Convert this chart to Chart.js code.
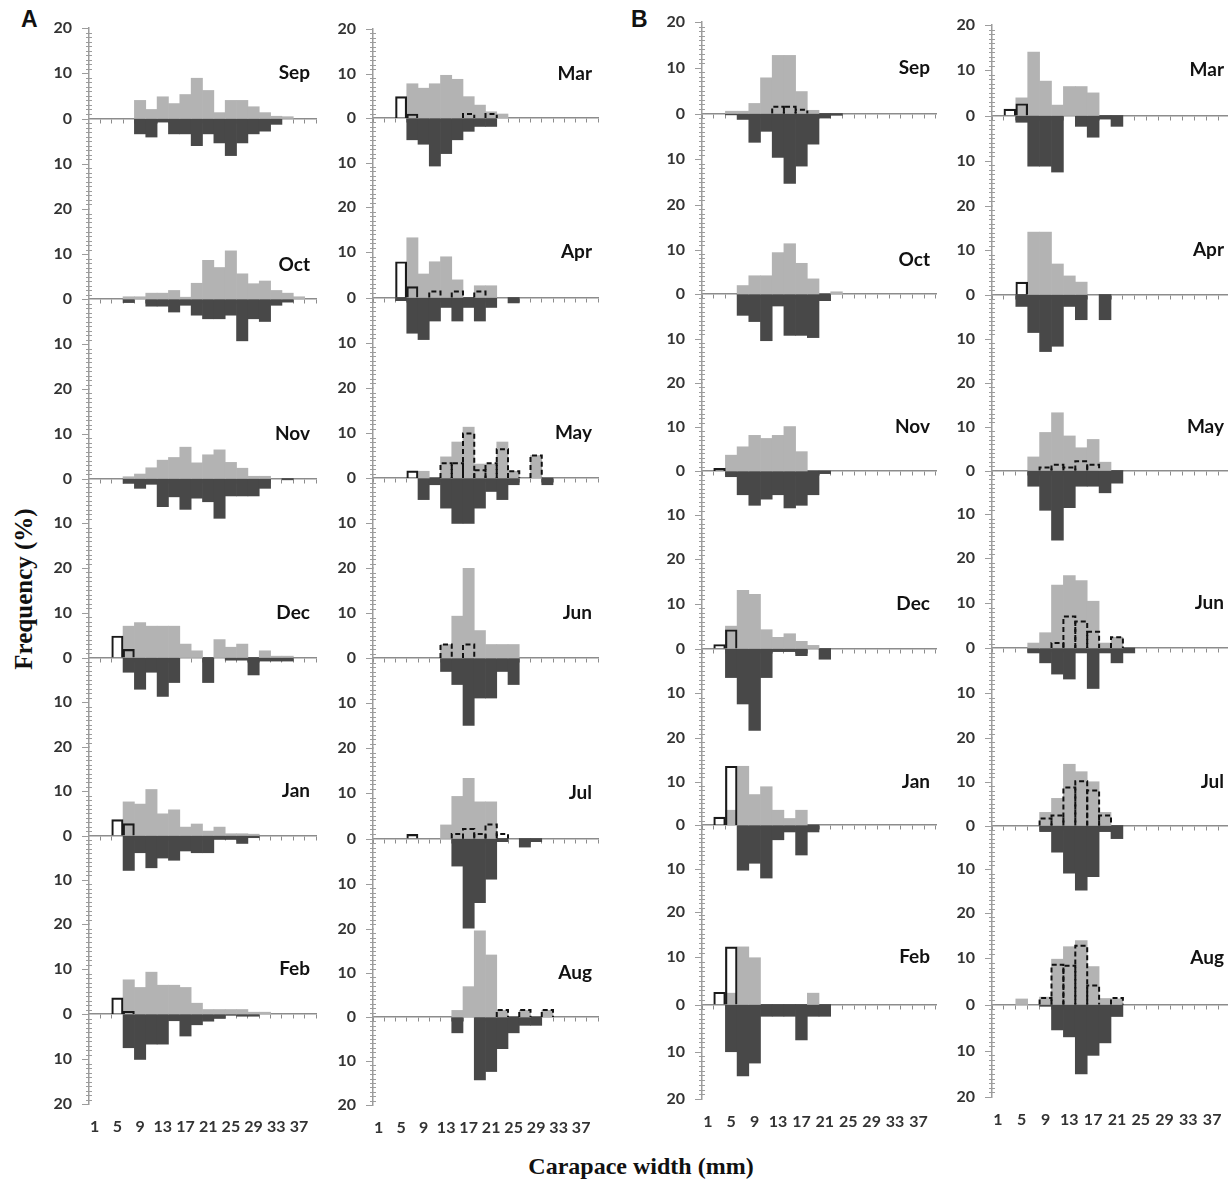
<!DOCTYPE html>
<html>
<head>
<meta charset="utf-8">
<title>Carapace width frequency distributions</title>
<script src="https://cdn.jsdelivr.net/npm/chart.js@4/dist/chart.umd.min.js"></script>
<style>
  html, body { margin: 0; padding: 0; background: #fff; overflow: hidden; }
  #figure { position: relative; width: 1228px; height: 1183px; }
  #figure canvas { position: absolute; }
  .txt { position: absolute; white-space: nowrap; color: #111; }
  .site { font: bold 23px "Liberation Sans", Arial, sans-serif; line-height: 23px; }
  .axis-title { font: bold 24px "Liberation Serif", "Times New Roman", serif; transform: translate(-50%, -50%); }
  .axis-title.vertical { transform: translate(-50%, -50%) rotate(-90deg); font-size: 25px; }
</style>
</head>
<body>
<div id="figure">
  <div class="txt site" style="left:21px; top:8px;">A</div>
  <div class="txt site" style="left:631px; top:8px;">B</div>
  <div class="txt axis-title vertical" style="left:24px; top:589px;">Frequency (%)</div>
  <div class="txt axis-title" style="left:641px; top:1166px;">Carapace width (mm)</div>
</div>
<script>
// ---- size classes (carapace width, mm; class mid-points) ----
const sizeClasses = ['1','3','5','7','9','11','13','15','17','19','21','23','25','27','29','31','33','35','37','39'];
const widthTickLabels = ['1','5','9','13','17','21','25','29','33','37'];
const freqTickLabels = [20, 10, 0, 10, 20];

const monthsSepFeb = ['Sep','Oct','Nov','Dec','Jan','Feb'];
const monthsMarAug = ['Mar','Apr','May','Jun','Jul','Aug'];

// ---- Site A: frequency (%) per size class ----
// up = plotted above the axis, down = plotted below the axis,
// open = open bars, dash = dashed bars
const A_Sep_up   = [0,0,0,0,4.0,2.0,4.8,3.3,5.3,8.9,6.2,1.3,4.0,4.0,2.6,1.3,0.5,0.4,0,0];
const A_Sep_down = [0,0,0,0,3.4,4.1,0.8,3.4,3.4,6.0,3.4,5.4,8.2,5.4,3.4,2.8,1.3,0,0,0];

const A_Oct_up   = [0,0,0,0.5,0.5,1.3,1.3,1.9,0.4,3.5,8.6,7.0,10.7,5.6,3.4,4.0,1.9,1.3,0.5,0];
const A_Oct_down = [0,0,0,0.8,0,1.6,1.6,2.9,1.4,3.6,4.4,4.4,3.6,9.3,4.4,5.0,1.4,0.7,0,0];

const A_Nov_up   = [0,0,0,0.4,1.0,2.4,4.1,4.7,7.0,3.5,5.3,6.4,3.6,2.3,0.5,0.5,0,0,0,0];
const A_Nov_down = [0,0,0,1.1,2.2,1.3,6.3,4.1,6.9,4.4,5.2,8.9,3.9,3.9,3.9,2.2,0,0.3,0,0];

const A_Dec_up   = [0,0,0,7.0,7.8,7.0,7.0,7.0,3.0,1.5,0,4.0,2.3,3.0,0,1.5,0.3,0.3,0,0];
const A_Dec_down = [0,0,0,3.3,7.1,3.3,8.7,5.6,0,0,5.6,0,0.6,0.6,3.9,0.8,0.8,0.8,0,0];
const A_Dec_open = [0,0,4.8,1.8,0,0,0,0,0,0,0,0,0,0,0,0,0,0,0,0];

const A_Jan_up   = [0,0,0,7.6,7.1,10.4,4.9,5.8,1.9,2.6,1.0,1.9,0.4,0.4,0.3,0,0,0,0,0];
const A_Jan_down = [0,0,0,7.9,3.9,7.3,5.1,5.6,3.5,3.9,3.9,0.9,0.9,1.8,0.5,0,0,0,0,0];
const A_Jan_open = [0,0,3.6,2.7,0,0,0,0,0,0,0,0,0,0,0,0,0,0,0,0];

const A_Feb_up   = [0,0,0,7.6,5.9,9.3,6.4,6.4,5.9,2.4,1.0,1.0,1.0,1.0,0.4,0.4,0,0,0,0];
const A_Feb_down = [0,0,0,7.5,10.1,6.7,6.7,1.5,4.9,2.4,1.6,1.0,0.3,0.5,0.5,0,0,0,0,0];
const A_Feb_open = [0,0,3.6,0.6,0,0,0,0,0,0,0,0,0,0,0,0,0,0,0,0];

const A_Mar_up   = [0,0,0,7.7,6.7,7.7,9.6,8.7,4.8,2.9,1.4,0.9,0,0,0,0,0,0,0,0];
const A_Mar_down = [0,0,0,4.9,5.9,10.8,8.0,4.9,3.0,1.9,1.9,0,0,0,0,0,0,0,0,0];
const A_Mar_open = [0,0,4.8,0.9,0,0,0,0,0,0,0,0,0,0,0,0,0,0,0,0];
const A_Mar_dash = [0,0,0,0,0,0,0,0,0.9,0,0.9,0,0,0,0,0,0,0,0,0];

const A_Apr_up   = [0,0,0,13.2,5.2,7.9,9.0,3.9,0,2.6,2.6,0,0,0,0,0,0,0,0,0];
const A_Apr_down = [0,0,0.7,7.9,9.3,5.2,2.2,5.2,2.2,5.2,2.2,0,1.2,0,0,0,0,0,0,0];
const A_Apr_open = [0,0,7.9,2.4,0,0,0,0,0,0,0,0,0,0,0,0,0,0,0,0];
const A_Apr_dash = [0,0,0,0,0,1.3,0,1.3,0,1.3,0,0,0,0,0,0,0,0,0,0];

const A_May_up   = [0,0,0,0,1.5,0,4.7,8.0,11.3,3.1,3.1,8.0,1.5,0,5.0,0,0,0,0,0];
const A_May_down = [0,0,0,0,4.8,1.5,6.7,10.1,10.1,6.7,3.0,4.8,1.5,0,0,1.5,0,0,0,0];
const A_May_open = [0,0,0,1.6,0,0,0,0,0,0,0,0,0,0,0,0,0,0,0,0];
const A_May_dash = [0,0,0,0,0,0,3.3,3.3,9.9,1.7,3.3,6.4,1.5,0,5.0,0,0,0,0,0];

const A_Jun_up   = [0,0,0,0,0,0,3.0,9.3,20.0,6.1,3.0,3.0,3.0,0,0,0,0,0,0,0];
const A_Jun_down = [0,0,0,0,0,0,3.0,5.9,15.0,8.9,8.9,3.0,5.9,0,0,0,0,0,0,0];
const A_Jun_dash = [0,0,0,0,0,0,3.0,0,3.0,0,0,0,0,0,0,0,0,0,0,0];

const A_Jul_up   = [0,0,0,0,0,0,3.0,9.3,13.3,8.1,8.1,0,0,0,0,0,0,0,0,0];
const A_Jul_down = [0,0,0,0,0,0,0,6.1,19.8,14.2,9.0,0.7,0,1.9,0.7,0,0,0,0,0];
const A_Jul_open = [0,0,0,0.9,0,0,0,0,0,0,0,0,0,0,0,0,0,0,0,0];
const A_Jul_dash = [0,0,0,0,0,0,0,1.0,2.1,1.0,3.1,1.0,0,0,0,0,0,0,0,0];

const A_Aug_up   = [0,0,0,0,0,0,0,1.5,6.9,19.6,14.1,1.5,0,1.5,0,1.5,0,0,0,0];
const A_Aug_down = [0,0,0,0,0,0,0,3.6,0,14.3,12.4,7.2,3.6,1.9,1.9,0,0,0,0,0];
const A_Aug_dash = [0,0,0,0,0,0,0,0,0,0,0,1.6,0,1.6,0,1.6,0,0,0,0];

// ---- Site B ----
const B_Sep_up   = [0,0,0.5,0.5,2.2,7.8,12.7,12.7,4.8,0.7,0,0,0,0,0,0,0,0,0,0];
const B_Sep_down = [0,0,0.3,1.3,6.3,3.9,9.6,15.3,11.5,6.7,1.0,0.4,0,0,0,0,0,0,0,0];
const B_Sep_dash = [0,0,0,0,0,0,1.5,1.5,0.8,0,0,0,0,0,0,0,0,0,0,0];

const B_Oct_up   = [0,0,0,1.9,4.1,4.1,9.3,11.3,6.9,3.4,0,0.5,0,0,0,0,0,0,0,0];
const B_Oct_down = [0,0,0,4.8,6.2,10.5,2.7,9.3,9.3,9.8,1.5,0,0,0,0,0,0,0,0,0];

const B_Nov_up   = [0,0,3.6,5.5,8.1,7.4,8.1,10.1,4.4,0,0,0,0,0,0,0,0,0,0,0];
const B_Nov_down = [0,0,1.3,5.4,7.8,6.4,5.4,8.4,7.8,5.4,0.6,0,0,0,0,0,0,0,0,0];
const B_Nov_open = [0,0.6,0,0,0,0,0,0,0,0,0,0,0,0,0,0,0,0,0,0];

const B_Dec_up   = [0,0,5.0,13.0,12.1,4.2,2.5,3.3,1.6,0.7,0,0,0,0,0,0,0,0,0,0];
const B_Dec_down = [0,0,6.5,12.4,18.3,6.5,0.7,0.7,1.6,0,2.4,0,0,0,0,0,0,0,0,0];
const B_Dec_open = [0,0.9,4.2,0,0,0,0,0,0,0,0,0,0,0,0,0,0,0,0,0];

const B_Jan_up   = [0,0,3.4,13.5,7.0,8.8,3.4,1.5,3.4,0,0,0,0,0,0,0,0,0,0,0];
const B_Jan_down = [0,0,0,10.4,8.8,12.2,3.4,1.6,6.9,1.6,0,0,0,0,0,0,0,0,0,0];
const B_Jan_open = [0,1.8,13.5,0,0,0,0,0,0,0,0,0,0,0,0,0,0,0,0,0];

const B_Feb_up   = [0,0,2.4,12.2,9.9,0,0,0,0,2.4,0,0,0,0,0,0,0,0,0,0];
const B_Feb_down = [0,0,10.0,15.1,12.4,2.5,2.5,2.5,7.5,2.5,2.5,0,0,0,0,0,0,0,0,0];
const B_Feb_open = [0,2.6,12.2,0,0,0,0,0,0,0,0,0,0,0,0,0,0,0,0,0];

const B_Mar_up   = [0,0,3.9,14.0,7.6,2.3,6.4,6.4,5.0,0,0,0,0,0,0,0,0,0,0,0];
const B_Mar_down = [0,0,1.5,11.2,11.2,12.5,0,2.4,4.8,0.8,2.4,0,0,0,0,0,0,0,0,0];
const B_Mar_open = [0,1.4,2.6,0,0,0,0,0,0,0,0,0,0,0,0,0,0,0,0,0];

const B_Apr_up   = [0,0,0,14.1,14.1,6.9,4.2,2.8,0,0,0,0,0,0,0,0,0,0,0,0];
const B_Apr_down = [0,0,2.7,8.6,12.9,11.7,2.7,5.7,0,5.7,0,0,0,0,0,0,0,0,0,0];
const B_Apr_open = [0,0,2.8,0,0,0,0,0,0,0,0,0,0,0,0,0,0,0,0,0];

const B_May_up   = [0,0,0,3.1,8.7,13.2,7.9,5.2,7.1,1.9,0,0,0,0,0,0,0,0,0,0];
const B_May_down = [0,0,0,3.6,9.1,15.9,8.5,3.6,3.6,5.1,2.9,0,0,0,0,0,0,0,0,0];
const B_May_dash = [0,0,0,0,0.7,1.3,0.7,2.1,1.3,0,0,0,0,0,0,0,0,0,0,0];

const B_Jun_up   = [0,0,0,1.1,3.4,14.0,16.1,15.0,10.4,1.1,2.4,0,0,0,0,0,0,0,0,0];
const B_Jun_down = [0,0,0,1.1,3.3,5.8,6.9,1.1,9.0,1.1,3.3,1.1,0,0,0,0,0,0,0,0];
const B_Jun_dash = [0,0,0,0,0,1.1,7.0,5.9,3.6,0,2.4,0,0,0,0,0,0,0,0,0];

const B_Jul_up   = [0,0,0,0,3.0,6.2,14.0,12.3,10.0,3.0,0,0,0,0,0,0,0,0,0,0];
const B_Jul_down = [0,0,0,0,1.4,6.1,10.9,14.8,11.7,1.4,3.0,0,0,0,0,0,0,0,0,0];
const B_Jul_dash = [0,0,0,0,1.6,2.3,8.7,10.1,8.0,2.3,0,0,0,0,0,0,0,0,0,0];

const B_Aug_up   = [0,0,1.2,0,1.6,9.8,12.5,13.8,8.2,1.3,1.2,0,0,0,0,0,0,0,0,0];
const B_Aug_down = [0,0,0,0,0.4,5.5,7.0,15.0,11.0,8.3,2.6,0,0,0,0,0,0,0,0,0];
const B_Aug_dash = [0,0,0,0,1.4,8.6,8.4,12.7,4.1,0,1.4,0,0,0,0,0,0,0,0,0];

// ---- lookup of the series by site and month ----
const seriesBySite = {
  A: {
    Sep: {up: A_Sep_up, down: A_Sep_down},
    Oct: {up: A_Oct_up, down: A_Oct_down},
    Nov: {up: A_Nov_up, down: A_Nov_down},
    Dec: {up: A_Dec_up, down: A_Dec_down, open: A_Dec_open},
    Jan: {up: A_Jan_up, down: A_Jan_down, open: A_Jan_open},
    Feb: {up: A_Feb_up, down: A_Feb_down, open: A_Feb_open},
    Mar: {up: A_Mar_up, down: A_Mar_down, open: A_Mar_open, dash: A_Mar_dash},
    Apr: {up: A_Apr_up, down: A_Apr_down, open: A_Apr_open, dash: A_Apr_dash},
    May: {up: A_May_up, down: A_May_down, open: A_May_open, dash: A_May_dash},
    Jun: {up: A_Jun_up, down: A_Jun_down, dash: A_Jun_dash},
    Jul: {up: A_Jul_up, down: A_Jul_down, open: A_Jul_open, dash: A_Jul_dash},
    Aug: {up: A_Aug_up, down: A_Aug_down, dash: A_Aug_dash}
  },
  B: {
    Sep: {up: B_Sep_up, down: B_Sep_down, dash: B_Sep_dash},
    Oct: {up: B_Oct_up, down: B_Oct_down},
    Nov: {up: B_Nov_up, down: B_Nov_down, open: B_Nov_open},
    Dec: {up: B_Dec_up, down: B_Dec_down, open: B_Dec_open},
    Jan: {up: B_Jan_up, down: B_Jan_down, open: B_Jan_open},
    Feb: {up: B_Feb_up, down: B_Feb_down, open: B_Feb_open},
    Mar: {up: B_Mar_up, down: B_Mar_down, open: B_Mar_open},
    Apr: {up: B_Apr_up, down: B_Apr_down, open: B_Apr_open},
    May: {up: B_May_up, down: B_May_down, dash: B_May_dash},
    Jun: {up: B_Jun_up, down: B_Jun_down, dash: B_Jun_dash},
    Jul: {up: B_Jul_up, down: B_Jul_down, dash: B_Jul_dash},
    Aug: {up: B_Aug_up, down: B_Aug_down, dash: B_Aug_dash}
  }
};

// ---- page layout: one column of six stacked panels each ----
// axisX = page x of the vertical axis, binW = width of one size class,
// rows = page y of the +20 and -20 ends of each panel
const columns = [
  {site: 'A', months: monthsSepFeb, axisX: 89,  binW: 11.35,
   rows: [[28,209],[209,389],[389,568],[568,747],[747,924],[924,1104]]},
  {site: 'A', months: monthsMarAug, axisX: 373, binW: 11.25,
   rows: [[29,207],[207,388],[388,568],[568,748],[748,929],[929,1105]]},
  {site: 'B', months: monthsSepFeb, axisX: 702, binW: 11.7,
   rows: [[22,205],[205,383],[383,559],[559,738],[738,912],[910,1099]]},
  {site: 'B', months: monthsMarAug, axisX: 992, binW: 11.9,
   rows: [[25,206],[206,383],[383,558],[558,738],[738,913],[912,1097]]}
];
const titleLevel = {Oct: 7.6};

const LIGHT = '#b3b3b3';
const DARK = '#484848';
const AXIS = '#8c8c8c';
const TICK_FONT = {family: 'Lato', size: 16, weight: 'bold'};

Chart.defaults.font.family = 'Lato';

// dashed outlines, axis ladder ticks and month name
const panelDecor = {
  id: 'panelDecor',
  afterDatasetsDraw(chart) {
    const ctx = chart.ctx;
    chart.data.datasets.forEach((ds, i) => {
      if (!ds.dashedOutline) return;
      const meta = chart.getDatasetMeta(i);
      ctx.save();
      ctx.setLineDash([5, 3]);
      ctx.lineWidth = 2;
      ctx.strokeStyle = '#111';
      meta.data.forEach((bar, j) => {
        if (ds.data[j] == null) return;
        const {x, y, base, width} = bar.getProps(['x', 'y', 'base', 'width'], true);
        const l = x - width / 2, r = x + width / 2;
        ctx.beginPath();
        ctx.moveTo(l, base);
        ctx.lineTo(l, y);
        ctx.lineTo(r, y);
        ctx.lineTo(r, base);
        ctx.stroke();
      });
      ctx.restore();
    });
  },
  afterDraw(chart, args, opts) {
    const {ctx, chartArea} = chart;
    const yScale = chart.scales.y;
    const x0 = chartArea.left;
    ctx.save();
    ctx.strokeStyle = '#9c9c9c';
    ctx.lineWidth = 1;
    for (let v = -20; v <= 20; v++) {
      if (v === 20 && !opts.first) continue;
      const py = Math.round(yScale.getPixelForValue(v)) + 0.5;
      ctx.beginPath();
      if (v % 10 === 0) { ctx.moveTo(x0 - 7, py); ctx.lineTo(x0, py); }
      else { ctx.moveTo(x0 - 3, py); ctx.lineTo(x0 + 3, py); }
      ctx.stroke();
    }
    ctx.fillStyle = '#111';
    ctx.font = 'bold 19px Lato';
    ctx.textAlign = 'right';
    ctx.textBaseline = 'middle';
    ctx.fillText(opts.month, chartArea.right - 6, yScale.getPixelForValue(opts.level));
    ctx.restore();
  }
};

const figure = document.getElementById('figure');
// vertical padding is larger than the half-label + tick padding the y axis asks for,
// so the plot area lands exactly where the layout says
const Y_AXIS_W = 50, PAD_TOP = 32, PAD_BOTTOM = 32, PAD_RIGHT = 10, X_LABELS_H = 34;
const asBars = arr => arr.map(v => (v ? v : null));

function buildPanel(col, rowIdx) {
  const month = col.months[rowIdx];
  const s = seriesBySite[col.site][month];
  const [top, bottom] = col.rows[rowIdx];
  const isLast = rowIdx === col.rows.length - 1;
  const chartW = Math.round(20 * col.binW);
  const w = Y_AXIS_W + chartW + PAD_RIGHT;
  const h = PAD_TOP + (bottom - top) + (isLast ? X_LABELS_H : PAD_BOTTOM);

  const canvas = document.createElement('canvas');
  canvas.width = w;
  canvas.height = h;
  canvas.style.left = (col.axisX - Y_AXIS_W) + 'px';
  canvas.style.top = (top - PAD_TOP) + 'px';
  figure.appendChild(canvas);

  const common = {barPercentage: 1, categoryPercentage: 1, grouped: false, borderSkipped: 'start'};
  const datasets = [
    Object.assign({label: 'above', data: asBars(s.up), backgroundColor: LIGHT, borderWidth: 0, order: 3}, common),
    Object.assign({label: 'below', data: s.down.map(v => (v ? -v : null)), backgroundColor: DARK, borderWidth: 0, order: 3}, common)
  ];
  if (s.open) {
    datasets.push(Object.assign({label: 'open', data: asBars(s.open), backgroundColor: 'rgba(0,0,0,0)',
      borderColor: '#1a1a1a', borderWidth: 1.5, order: 1}, common));
  }
  if (s.dash) {
    datasets.push(Object.assign({label: 'dashed', data: asBars(s.dash), backgroundColor: 'rgba(0,0,0,0)',
      borderWidth: 0, dashedOutline: true, order: 0}, common));
  }

  const scales = {
    x: {
      type: 'category',
      position: {y: 0},
      offset: true,
      z: 1,
      ticks: {display: false},
      grid: {display: true, drawOnChartArea: false, drawTicks: true, tickLength: 4,
             color: AXIS, tickColor: AXIS, offset: true},
      border: {display: true, color: AXIS, width: 1.5}
    },
    y: {
      type: 'linear',
      position: 'left',
      min: -20, max: 20,
      afterFit: sc => { sc.width = Y_AXIS_W; },
      ticks: {
        stepSize: 10,
        padding: 17,
        color: '#333',
        font: TICK_FONT,
        callback: v => (v === 20 && rowIdx > 0) ? '' : String(freqTickLabels[(20 - v) / 10])
      },
      grid: {display: false, drawTicks: false},
      border: {display: true, color: '#9c9c9c', width: 1.5}
    }
  };
  if (isLast) {
    scales.xLabels = {
      type: 'category',
      position: 'bottom',
      offset: true,
      afterFit: sc => { sc.height = X_LABELS_H; },
      ticks: {
        autoSkip: false,
        maxRotation: 0,
        padding: 13,
        color: '#333',
        font: TICK_FONT,
        callback: (val, i) => widthTickLabels.includes(sizeClasses[i]) ? sizeClasses[i] : ''
      },
      grid: {display: false, drawTicks: false},
      border: {display: false}
    };
  }

  new Chart(canvas, {
    type: 'bar',
    data: {labels: sizeClasses, datasets},
    options: {
      responsive: false,
      animation: false,
      devicePixelRatio: 1,
      layout: {padding: {top: PAD_TOP, bottom: isLast ? 0 : PAD_BOTTOM, left: 0, right: PAD_RIGHT}},
      plugins: {
        legend: {display: false},
        tooltip: {enabled: false},
        panelDecor: {month, level: titleLevel[month] ?? 10, first: rowIdx === 0}
      },
      scales
    },
    plugins: [panelDecor]
  });
}

columns.forEach(col => col.rows.forEach((r, i) => buildPanel(col, i)));
</script>
</body>
</html>
